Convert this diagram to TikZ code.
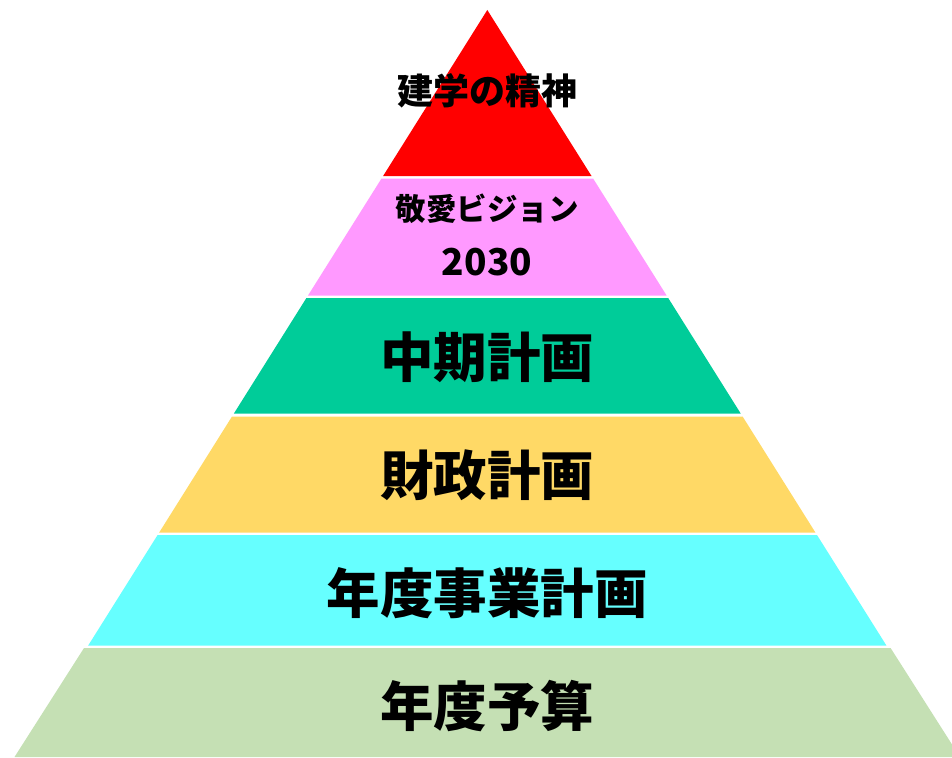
\documentclass[tikz,border=0pt]{standalone}
\usepackage{fontspec}
\setmainfont{Noto Sans CJK JP}
\definecolor{cRed}{HTML}{FF0000}
\definecolor{cPink}{HTML}{FF99FF}
\definecolor{cGreen}{HTML}{00CC99}
\definecolor{cYellow}{HTML}{FFD966}
\definecolor{cCyan}{HTML}{66FFFF}
\definecolor{cSage}{HTML}{C5E0B4}
\tikzset{
  lbl/.style={inner sep=0pt, font=\bfseries, text=black, align=center},
  big/.style={lbl, font=\fontsize{53.5}{60}\selectfont\bfseries},
  mid/.style={lbl, font=\fontsize{36}{42}\selectfont\bfseries},
  num/.style={lbl, font=\fontsize{37}{42}\selectfont\bfseries},
  sml/.style={lbl, font=\fontsize{30.5}{36}\selectfont\bfseries},
}
\begin{document}
\begin{tikzpicture}[x=1pt,y=-1pt]
\useasboundingbox (0,0) rectangle (952,757);
\clip (0,0) rectangle (952,757);
% layers
\fill[cRed] (487.3,10) -- (591.5,176) -- (383.1,176) -- cycle;
\fill[cPink] (381.5,178.5) -- (593.1,178.5) -- (666.6,295.5) -- (308.0,295.5) -- cycle;
\fill[cGreen] (306.4,298) -- (668.2,298) -- (740.7,413.5) -- (233.9,413.5) -- cycle;
\fill[cYellow] (232.0,416.5) -- (742.6,416.5) -- (815.4,532.5) -- (159.2,532.5) -- cycle;
\fill[cCyan] (157.6,535) -- (817.0,535) -- (886.4,645.5) -- (88.2,645.5) -- cycle;
\fill[cSage] (84.0,648) -- (890.6,648) -- (960,757) -- (14.5,757) -- cycle;
% labels
\node[mid] (t1) at (487,91) {建学の精神};
\node[sml] (t2) at (487,209) {敬愛ビジョン};
\node[num] (t3) at (487,262) {2030};
\node[big] (t4) at (487,357) {中期計画};
\node[big] (t5) at (487,475) {財政計画};
\node[big] (t6) at (487,593) {年度事業計画};
\node[big] (t7) at (487,706) {年度予算};
\end{tikzpicture}
\end{document}
